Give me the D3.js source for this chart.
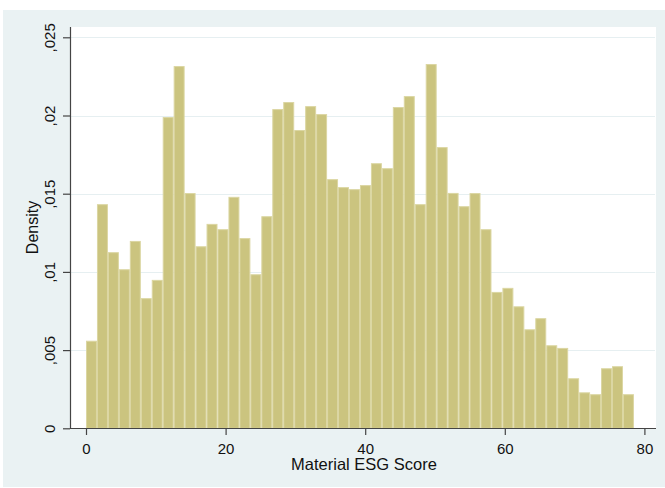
<!DOCTYPE html>
<html>
<head>
<meta charset="utf-8">
<script src="https://cdn.jsdelivr.net/npm/d3@7"></script>
<style>
  html, body { margin: 0; padding: 0; background: #ffffff; }
  svg { display: block; font-family: "Liberation Sans", Arial, sans-serif; }
</style>
</head>
<body>
<svg id="chart" width="665" height="488"></svg>
<script>
// Histogram of Material ESG Score (density scale), 50 equal-width bins
const binStart = 0;
const binWidth = 1.57;
const densities = [
  0.0056, 0.01433, 0.01126, 0.01017, 0.01198, 0.00832, 0.00949, 0.0199, 0.02316, 0.01504,
  0.01164, 0.01307, 0.01273, 0.0148, 0.01216, 0.00985, 0.01356, 0.02041, 0.02086, 0.01907,
  0.0206, 0.02009, 0.01593, 0.01542, 0.01529, 0.01555, 0.01695, 0.01663, 0.02054, 0.02124,
  0.01433, 0.02329, 0.01798, 0.01505, 0.0142, 0.01504, 0.01273, 0.00872, 0.00898, 0.0078,
  0.00633, 0.00704, 0.00531, 0.00514, 0.0032, 0.0023, 0.00218, 0.00384, 0.00397, 0.00218
];
const xTicks = [0, 20, 40, 60, 80];
const yTicks = [0, 0.005, 0.01, 0.015, 0.02, 0.025];
const yTickLabels = ["0", ",005", ",01", ",015", ",02", ",025"];
const xTitle = "Material ESG Score";
const yTitle = "Density";

const svg = d3.select("#chart");

// outer graph region and white plot region
const plot = { left: 70, right: 656, top: 27, bottom: 428 };
svg.append("rect").attr("x", 3).attr("y", 10).attr("width", 662).attr("height", 477)
  .attr("fill", "#eaf2f3");
svg.append("rect").attr("x", plot.left).attr("y", plot.top)
  .attr("width", plot.right - plot.left).attr("height", plot.bottom - plot.top)
  .attr("fill", "#ffffff");

const x = d3.scaleLinear().domain([0, 80]).range([86, 644.4]);
const y = d3.scaleLinear().domain([0, 0.025]).range([428.3, 37.3]);

// horizontal grid lines
svg.append("g").selectAll("line").data(yTicks.slice(1)).join("line")
  .attr("x1", plot.left).attr("x2", plot.right - 1)
  .attr("y1", d => Math.round(y(d)) + 0.5).attr("y2", d => Math.round(y(d)) + 0.5)
  .attr("stroke", "#e6eff1").attr("stroke-width", 1.2);

// bars
const bins = densities.map((d, i) => ({ x0: binStart + i * binWidth, x1: binStart + (i + 1) * binWidth, d }));
svg.append("g").selectAll("rect").data(bins).join("rect")
  .attr("x", b => x(b.x0) + 0.5)
  .attr("y", b => y(b.d) + 0.5)
  .attr("width", b => x(b.x1) - x(b.x0) - 1)
  .attr("height", b => y(0) - y(b.d) - 0.5)
  .attr("fill", "#cbc47f")
  .attr("stroke", "#dbd6a2")
  .attr("stroke-width", 1);

// axes
const yAxis = d3.axisLeft(y).tickValues(yTicks).tickSize(7).tickPadding(8)
  .tickFormat((d, i) => yTickLabels[i]);
const gy = svg.append("g").attr("transform", `translate(${plot.left},0)`).call(yAxis);
gy.select(".domain").attr("d", `M0.5,${plot.top}V${plot.bottom + 0.5}`).attr("stroke", "#444").attr("stroke-width", 1.2);
gy.selectAll(".tick line").attr("stroke", "#444").attr("stroke-width", 1.2);
gy.selectAll(".tick text")
  .attr("font-size", 15).attr("fill", "#111")
  .attr("transform", "rotate(-90)")
  .attr("x", 0).attr("y", -15)
  .attr("dy", 0)
  .attr("text-anchor", "middle");

const xAxis = d3.axisBottom(x).tickValues(xTicks).tickSize(7).tickPadding(8);
const gx = svg.append("g").attr("transform", `translate(0,${plot.bottom})`).call(xAxis);
gx.select(".domain").attr("d", `M${plot.left},0.5H${plot.right}`).attr("stroke", "#444").attr("stroke-width", 1.2);
gx.selectAll(".tick line").attr("stroke", "#444").attr("stroke-width", 1.2);
gx.selectAll(".tick text").attr("font-size", 15).attr("fill", "#111")
  .attr("dy", 0).attr("y", 25.5);

// axis titles
svg.append("text").attr("x", (plot.left + plot.right) / 2 + 1).attr("y", 470)
  .attr("text-anchor", "middle").attr("font-size", 16.5).attr("fill", "#111").text(xTitle);
svg.append("text")
  .attr("transform", `translate(38,${(plot.top + plot.bottom) / 2}) rotate(-90)`)
  .attr("text-anchor", "middle").attr("font-size", 16).attr("fill", "#111").text(yTitle);
</script>
</body>
</html>
